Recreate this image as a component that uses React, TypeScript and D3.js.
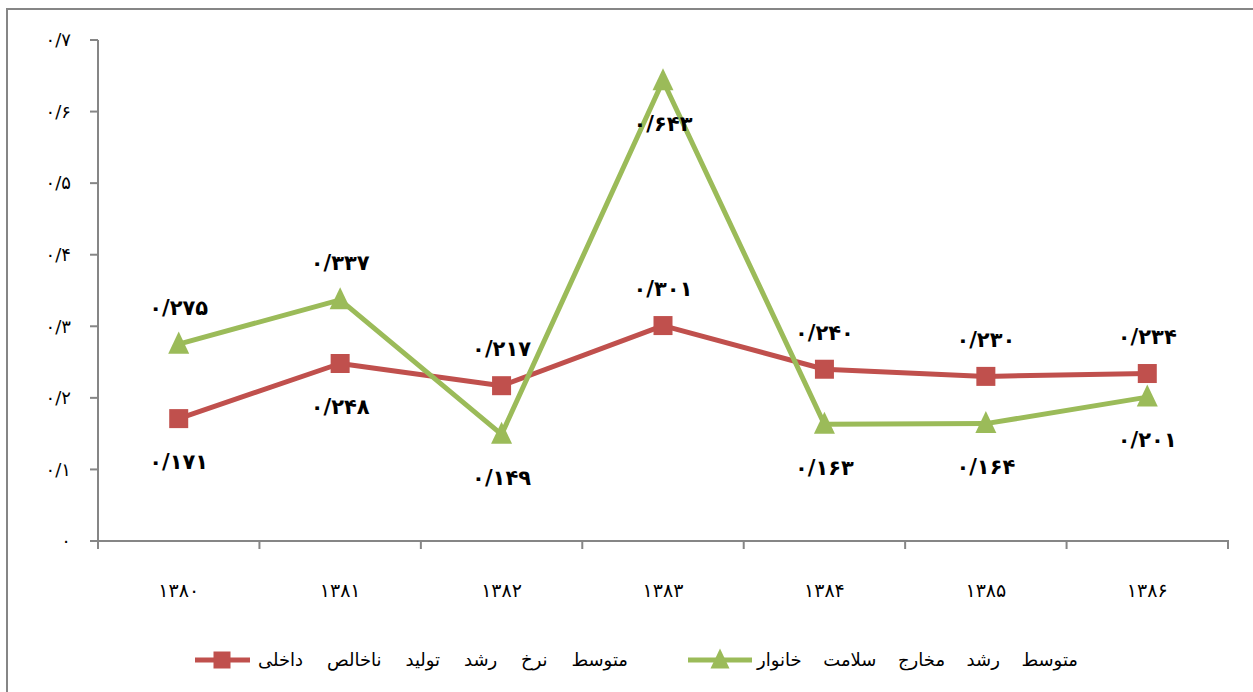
import React, { useEffect, useRef, useState } from "react";
import { line, scaleBand, scaleLinear } from "d3";

// years (x axis)
const years = ["۱۳۸۰", "۱۳۸۱", "۱۳۸۲", "۱۳۸۳", "۱۳۸۴", "۱۳۸۵", "۱۳۸۶"];

// GDP growth rate average
const gdpGrowth = [0.171, 0.248, 0.217, 0.301, 0.24, 0.23, 0.234];
// household health spending growth average
const healthGrowth = [0.275, 0.337, 0.149, 0.643, 0.163, 0.164, 0.201];

const yTicks = [0, 0.1, 0.2, 0.3, 0.4, 0.5, 0.6, 0.7];
const yTickLabels = ["۰", "۰/۱", "۰/۲", "۰/۳", "۰/۴", "۰/۵", "۰/۶", "۰/۷"];

// where each data label sits relative to its point
const gdpLabelSide = ["below", "below", "above", "above", "above", "above", "above"];
const healthLabelSide = ["above", "above", "below", "below", "below", "below", "below"];

const gdpName = "متوسط نرخ رشد تولید ناخالص داخلی";
const healthName = "متوسط رشد مخارج سلامت خانوار";

const RED = "#c0504d";
const GREEN = "#9bbb59";
const AXIS = "#868686";
const FONT = "'DejaVu Sans', sans-serif";

const persianDigits = "۰۱۲۳۴۵۶۷۸۹";
const toPersian = (v: number) =>
    v
        .toFixed(3)
        .replace(".", "/")
        .replace(/[0-9]/g, d => persianDigits[+d]);

const App: React.FC = () => {
    const width = 1253,
        height = 692;

    const redText = useRef<SVGTextElement>(null);
    const greenText = useRef<SVGTextElement>(null);
    const [spacing, setSpacing] = useState({ red: 0, green: 0 });

    // spread the legend words out like the original (justified look)
    useEffect(() => {
        const fit = (el: SVGTextElement | null, target: number, gaps: number) =>
            el ? Math.max(0, (target - el.getComputedTextLength()) / gaps) : 0;
        setSpacing({
            red: fit(redText.current, 370, 5),
            green: fit(greenText.current, 321, 4),
        });
    }, []);

    const x = scaleBand<string>().domain(years).range([98, 1228]).padding(0);
    const y = scaleLinear().domain([0, 0.7]).range([541, 40]);
    const cx = (i: number) => (x(years[i]) as number) + x.bandwidth() / 2;

    const path = line<number>()
        .x((d, i) => cx(i))
        .y(d => y(d));

    const square = (px: number, py: number, s: number, key: any) => (
        <rect key={key} x={px - s / 2} y={py - s / 2} width={s} height={s} fill={RED} />
    );
    const triangle = (px: number, py: number, s: number, key: any) => (
        <path
            key={key}
            d={`M${px},${py - s * 0.6} L${px + s / 2},${py + s * 0.45} L${px - s / 2},${py + s * 0.45} Z`}
            fill={GREEN}
        />
    );

    const labelY = (py: number, side: string) => (side === "above" ? py - 37 : py + 43);

    return (
        <svg
            width={width}
            height={height}
            style={{ position: "absolute", left: 0, top: 0, background: "#fff" }}
            fontFamily={FONT}
        >
            {/* outer frame */}
            <rect x={7} y={9} width={1270} height={720} fill="none" stroke={AXIS} strokeWidth={2} />

            {/* y axis */}
            <line x1={98} x2={98} y1={y(0.7)} y2={548} stroke={AXIS} strokeWidth={2} />
            {yTicks.map((t, i) => (
                <g key={"yt" + i}>
                    <line x1={90} x2={98} y1={y(t)} y2={y(t)} stroke={AXIS} strokeWidth={2} />
                    <text x={71} y={y(t)} dy="0.35em" textAnchor="end" fontSize={18} fill="#000">
                        {yTickLabels[i]}
                    </text>
                </g>
            ))}

            {/* x axis */}
            <line x1={90} x2={1229} y1={y(0)} y2={y(0)} stroke={AXIS} strokeWidth={2} />
            {[...years.map(c => x(c) as number), 1228].map((px, i) => (
                <line key={"xt" + i} x1={px} x2={px} y1={y(0)} y2={549} stroke={AXIS} strokeWidth={2} />
            ))}
            {years.map((c, i) => (
                <text key={"xl" + i} x={cx(i)} y={590} dy="0.35em" textAnchor="middle" fontSize={19} fill="#000">
                    {c}
                </text>
            ))}

            {/* series lines */}
            <path d={path(gdpGrowth) || ""} fill="none" stroke={RED} strokeWidth={5} strokeLinejoin="round" />
            <path d={path(healthGrowth) || ""} fill="none" stroke={GREEN} strokeWidth={5} strokeLinejoin="round" />

            {gdpGrowth.map((d, i) => square(cx(i), y(d), 19, "s" + i))}
            {healthGrowth.map((d, i) => triangle(cx(i), y(d), 21, "t" + i))}

            {/* data labels */}
            {gdpGrowth.map((d, i) => (
                <text
                    key={"gl" + i}
                    x={cx(i)}
                    y={labelY(y(d), gdpLabelSide[i])}
                    dy="0.35em"
                    textAnchor="middle"
                    fontSize={21}
                    fontWeight="bold"
                    fill="#000"
                >
                    {toPersian(d)}
                </text>
            ))}
            {healthGrowth.map((d, i) => (
                <text
                    key={"hl" + i}
                    x={cx(i)}
                    y={labelY(y(d), healthLabelSide[i])}
                    dy="0.35em"
                    textAnchor="middle"
                    fontSize={21}
                    fontWeight="bold"
                    fill="#000"
                >
                    {toPersian(d)}
                </text>
            ))}

            {/* legend */}
            <line x1={195} x2={250} y1={660} y2={660} stroke={RED} strokeWidth={5} />
            {square(222, 660, 17, "lg1")}
            <text ref={redText} x={258} y={660} dy="0.35em" fontSize={18} fill="#000" wordSpacing={spacing.red}>
                {gdpName}
            </text>

            <line x1={688} x2={752} y1={660} y2={660} stroke={GREEN} strokeWidth={5} />
            {triangle(720, 660, 19, "lg2")}
            <text ref={greenText} x={757} y={660} dy="0.35em" fontSize={18} fill="#000" wordSpacing={spacing.green}>
                {healthName}
            </text>
        </svg>
    );
};

export default App;
